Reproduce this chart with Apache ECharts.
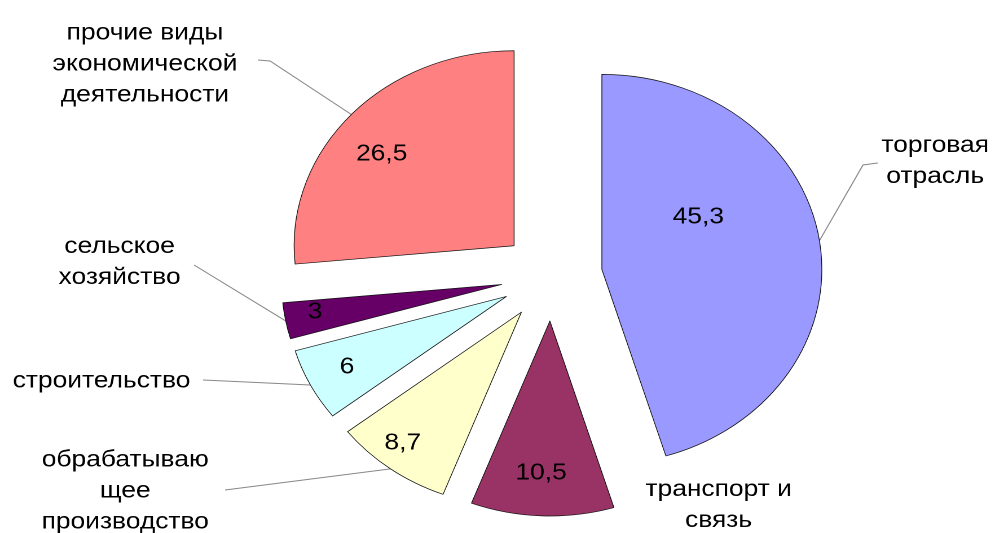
<!DOCTYPE html>
<html><head><meta charset="utf-8">
<script src="https://cdn.jsdelivr.net/npm/echarts@6/dist/echarts.min.js"></script>
<style>
html,body{margin:0;padding:0;background:#fff;overflow:hidden;}
#wrap{width:995px;height:533px;overflow:hidden;position:relative;}
#chart{width:882px;height:533px;transform:scaleX(1.1281);transform-origin:0 0;}
</style></head><body>
<div id="wrap"><div id="chart"></div></div>
<script>
// ---- data ----
const categories = ['торговая\nотрасль', 'транспорт и\nсвязь', 'обрабатываю\nщее\nпроизводство', 'строительство', 'сельское\nхозяйство', 'прочие виды\nэкономической\nдеятельности'];
const values = [45.3, 10.5, 8.7, 6, 3, 26.5];
// ---- style / layout ----
const colors = ['#9999FF', '#993366', '#FFFFCC', '#CCFFFF', '#660066', '#FF8080'];
const CENTER = [489, 276], RADIUS = 195, EXPLODE = 45;
// label anchors (chart px, before horizontal stretch)
const namePos = [[829, 161], [637, 505], [111, 491], [90, 381], [106, 262], [128.5, 64]];
const lineBends = [[[765, 165], [778, 163]], null, [[199.5, 490], [199.5, 490]], [[180, 380], [180, 380]], [[172, 265], [172, 265]], [[239.4, 61], [228.7, 60]]];
const valuePos = [[619, 217], [479.6, 473], [357, 443], [307.6, 367], [279.3, 312], [338.4, 154]];

const font = "'Liberation Sans', Arial, sans-serif";
const FS = 23.4;
const chart = echarts.init(document.getElementById('chart'), null, {devicePixelRatio: 2});

const common = {
  type: 'pie',
  center: CENTER,
  radius: [0, RADIUS],
  startAngle: 90,
  clockwise: true,
  avoidLabelOverlap: false,
  animation: false,
  emphasis: {disabled: true, scale: false},
  silent: true
};

function pushOut(pt) {
  const dx = pt[0] - CENTER[0], dy = pt[1] - CENTER[1];
  const L = Math.sqrt(dx * dx + dy * dy) || 1;
  return [pt[0] + EXPLODE * dx / L, pt[1] + EXPLODE * dy / L];
}

chart.setOption({
  backgroundColor: '#fff',
  animation: false,
  series: [
    // slices (exploded)
    Object.assign({}, common, {
      selectedMode: 'multiple',
      selectedOffset: EXPLODE,
      data: categories.map((c, i) => ({name: c, value: values[i], selected: true, itemStyle: {color: colors[i]}})),
      itemStyle: {borderColor: '#111', borderWidth: 0.7},
      label: {show: false},
      labelLine: {show: false}
    }),
    // category labels with leader lines
    Object.assign({}, common, {
      data: categories.map((c, i) => ({name: c, value: values[i], labelLine: {show: !!lineBends[i]}})),
      itemStyle: {color: 'rgba(0,0,0,0)', borderWidth: 0},
      label: {
        show: true, position: 'outside', color: '#000', fontFamily: font, fontSize: FS,
        lineHeight: 31, align: 'center',
        formatter: p => p.name
      },
      labelLine: {show: true, lineStyle: {color: '#888', width: 1}, length: 10, length2: 10},
      labelLayout: function (p) {
        const i = p.dataIndex;
        const res = {x: namePos[i][0], y: namePos[i][1], align: 'center', verticalAlign: 'middle'};
        if (lineBends[i] && p.labelLinePoints) {
          res.labelLinePoints = [pushOut(p.labelLinePoints[0]), lineBends[i][0], lineBends[i][1]];
        }
        return res;
      }
    }),
    // value labels
    Object.assign({}, common, {
      data: categories.map((c, i) => ({name: c, value: values[i]})),
      itemStyle: {color: 'rgba(0,0,0,0)', borderWidth: 0},
      label: {
        show: true, position: 'inside', color: '#000', fontFamily: font, fontSize: FS,
        formatter: p => String(p.value).replace('.', ',')
      },
      labelLine: {show: false},
      labelLayout: function (p) {
        const i = p.dataIndex;
        return {x: valuePos[i][0], y: valuePos[i][1], align: 'center', verticalAlign: 'middle'};
      }
    })
  ]
});
</script>
</body></html>
